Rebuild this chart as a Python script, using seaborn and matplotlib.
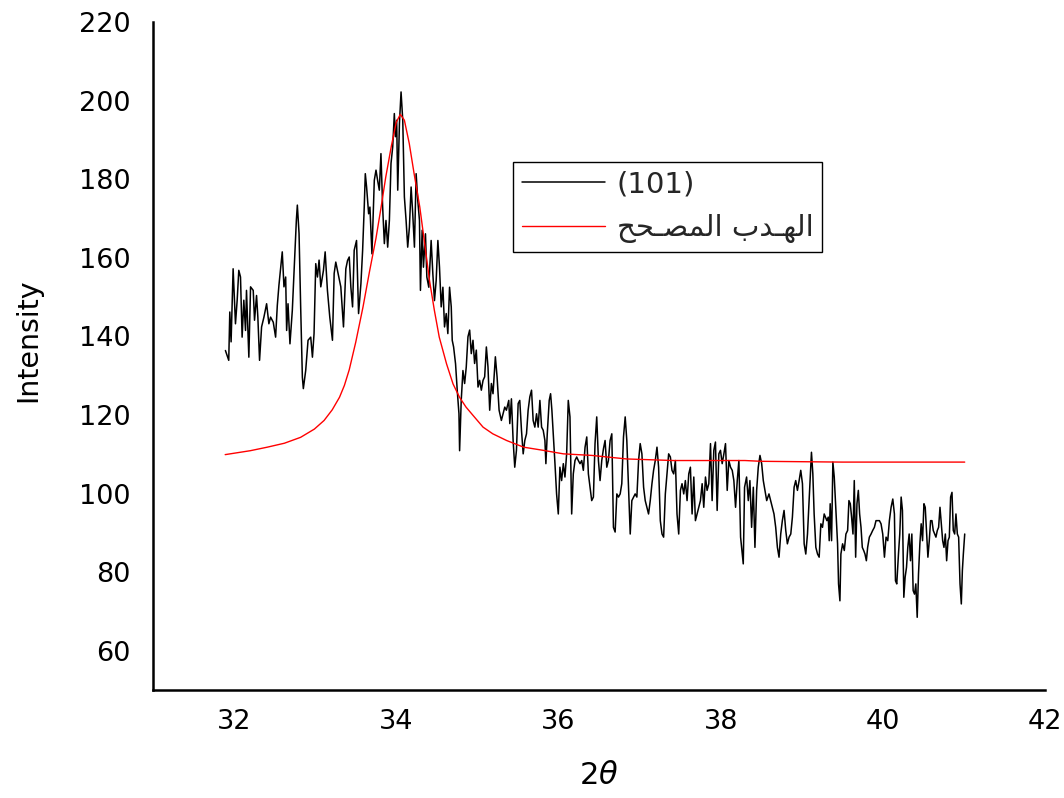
import numpy as np
import pandas as pd
import matplotlib
matplotlib.use("Agg")
import matplotlib.pyplot as plt
from matplotlib.font_manager import FontProperties
import seaborn as sns

# Measured XRD scan around the (101) reflection
scan_two_theta = [
    31.893, 31.934, 31.947, 31.963, 31.988, 32.017, 32.038, 32.058, 32.079, 32.099,
    32.120, 32.141, 32.153, 32.182, 32.203, 32.236, 32.252, 32.277, 32.293, 32.314,
    32.339, 32.368, 32.401, 32.429, 32.450, 32.483, 32.512, 32.533, 32.553, 32.594,
    32.615, 32.636, 32.648, 32.665, 32.689, 32.718, 32.747, 32.768, 32.780, 32.801,
    32.821, 32.842, 32.854, 32.883, 32.912, 32.945, 32.966, 32.986, 33.007, 33.028,
    33.048, 33.069, 33.102, 33.123, 33.151, 33.180, 33.213, 33.234, 33.254, 33.283,
    33.316, 33.349, 33.378,
    33.399, 33.420, 33.440, 33.461, 33.481, 33.510, 33.535, 33.564, 33.585, 33.605,
    33.618, 33.634, 33.659, 33.675, 33.700, 33.729, 33.750, 33.770, 33.791, 33.811,
    33.832, 33.853, 33.873, 33.894, 33.915, 33.935, 33.956, 33.976, 33.989, 34.005,
    34.018, 34.039, 34.059, 34.080, 34.100, 34.121, 34.141, 34.162, 34.183, 34.203,
    34.224, 34.245, 34.265, 34.286, 34.298, 34.319, 34.335, 34.360, 34.377, 34.401,
    34.430, 34.451, 34.471, 34.492, 34.513, 34.533, 34.554, 34.575, 34.595, 34.616,
    34.636, 34.657, 34.678, 34.690, 34.707, 34.731, 34.752, 34.773, 34.781, 34.801,
    34.822,
    34.843, 34.863, 34.884, 34.905, 34.925, 34.946, 34.966, 34.987, 35.008, 35.028,
    35.049, 35.070, 35.090, 35.111, 35.131, 35.152, 35.173, 35.193, 35.222, 35.243,
    35.268, 35.296, 35.317, 35.338, 35.358, 35.387, 35.400, 35.420, 35.441, 35.461,
    35.482, 35.503, 35.523, 35.544, 35.565, 35.585, 35.606, 35.626, 35.647, 35.668,
    35.688, 35.709, 35.730, 35.750, 35.771, 35.792, 35.812, 35.833, 35.845, 35.862,
    35.886, 35.903, 35.919, 35.936, 35.957, 35.977, 35.998, 36.018, 36.039, 36.060,
    36.080, 36.101, 36.121, 36.142, 36.163, 36.183, 36.204, 36.225, 36.245, 36.266,
    36.287, 36.307, 36.328, 36.349, 36.369, 36.390, 36.410,
    36.431, 36.451, 36.472, 36.493, 36.513, 36.534, 36.555, 36.575, 36.596, 36.616,
    36.637, 36.658, 36.678, 36.699, 36.720, 36.740, 36.761, 36.781, 36.802, 36.823,
    36.843, 36.864, 36.885, 36.905, 36.926, 36.946, 36.967, 36.988, 37.008, 37.029,
    37.050, 37.070, 37.091, 37.111, 37.132, 37.153, 37.173, 37.194, 37.215, 37.235,
    37.256, 37.277, 37.297, 37.318, 37.339, 37.359, 37.380, 37.400, 37.421, 37.442,
    37.462, 37.483, 37.504, 37.524, 37.545, 37.565, 37.586, 37.607, 37.627, 37.648,
    37.669, 37.689, 37.710, 37.730, 37.751, 37.772,
    37.792, 37.813, 37.833, 37.854, 37.875, 37.895, 37.916, 37.936, 37.957, 37.978,
    37.998, 38.019, 38.040, 38.060, 38.081, 38.101, 38.122, 38.143, 38.163, 38.184,
    38.205, 38.225, 38.246, 38.266, 38.279, 38.295, 38.320, 38.341, 38.361, 38.382,
    38.403, 38.423, 38.444, 38.464, 38.485, 38.506, 38.526, 38.547, 38.568, 38.596,
    38.617, 38.638, 38.658, 38.679, 38.700, 38.720, 38.741, 38.761, 38.782, 38.803,
    38.823, 38.844, 38.865, 38.885, 38.906, 38.926, 38.947, 38.968, 38.988, 39.009,
    39.030, 39.050, 39.071, 39.091, 39.112, 39.120, 39.137, 39.153, 39.174, 39.195,
    39.215, 39.236, 39.256,
    39.277, 39.310, 39.327, 39.339, 39.351, 39.368, 39.384, 39.401, 39.421, 39.442,
    39.454, 39.471, 39.483, 39.504, 39.525, 39.545, 39.566, 39.582, 39.599, 39.615,
    39.632, 39.648, 39.665, 39.681, 39.698, 39.714, 39.731, 39.747, 39.764, 39.780,
    39.797, 39.813, 39.834, 39.855, 39.875, 39.896, 39.916, 39.937, 39.958, 39.978,
    39.999, 40.020, 40.040, 40.061, 40.081, 40.102, 40.123, 40.143, 40.156, 40.172,
    40.193, 40.209, 40.226, 40.242, 40.259, 40.275, 40.292, 40.308, 40.325, 40.341,
    40.358, 40.374, 40.391, 40.407, 40.424, 40.440, 40.457, 40.473, 40.490, 40.507,
    40.523, 40.540, 40.556, 40.573, 40.589, 40.606, 40.622, 40.639, 40.655, 40.672,
    40.688, 40.705, 40.721, 40.738, 40.754, 40.771, 40.787, 40.804, 40.820, 40.836,
    40.853, 40.869, 40.886, 40.902, 40.919, 40.935, 40.952, 40.968, 40.981, 40.993,
    41.010,
]
scan_intensity = [
    136.4, 133.9, 146.2, 138.6, 157.2, 143.2, 149.2, 156.8, 155.1, 139.8,
    149.2, 141.5, 151.7, 134.7, 152.6, 151.7, 144.1, 150.4, 144.9, 133.9,
    142.4, 144.9, 148.3, 143.2, 144.9, 143.6, 139.8, 147.9, 153.0, 161.5,
    152.6, 155.1, 141.5, 148.3, 138.1, 146.6, 160.2, 169.6, 173.4, 166.2,
    147.5, 129.6, 126.7, 131.3, 139.0, 139.8, 134.7, 140.7, 158.5, 155.1,
    159.4, 152.6, 156.8, 161.5, 151.7, 144.9, 139.0, 156.0, 158.9, 156.0,
    152.6, 142.4, 157.2,
    159.3, 160.2, 152.5, 147.5, 161.9, 164.4, 145.8, 153.4, 161.9, 172.9,
    181.4, 178.0, 171.2, 172.9, 161.0, 179.7, 182.3, 179.7, 177.2, 186.5,
    172.9, 163.6, 169.5, 162.7, 169.5, 184.0, 188.2, 196.7, 190.8, 195.0,
    177.2, 194.2, 202.2, 195.0, 175.5, 169.5, 162.7, 167.8, 178.0, 171.2,
    162.7, 181.4, 174.6, 169.5, 151.7, 167.0, 157.6, 166.1, 155.1, 152.5,
    164.4, 155.9, 149.1, 154.2, 164.4, 157.6, 147.5, 152.5, 142.4, 145.8,
    140.7, 152.5, 147.5, 139.0, 137.3, 133.0, 126.2, 120.3, 110.9, 123.7,
    131.3,
    128.0, 132.2, 139.9, 141.6, 135.6, 139.0, 133.1, 136.5, 127.1, 128.8,
    126.3, 128.8, 129.7, 137.3, 132.2, 121.2, 128.0, 125.4, 134.8, 129.7,
    121.2, 118.6, 120.3, 122.0, 121.2, 123.7, 117.8, 124.1, 113.5, 106.7,
    111.0, 122.9, 123.7, 116.1, 110.1, 113.5, 115.2, 121.2, 124.6, 126.3,
    118.6, 116.9, 120.3, 116.9, 123.7, 116.9, 116.1, 113.5, 107.6, 115.2,
    123.7, 125.4, 121.2, 115.2, 107.6, 99.9, 94.8, 106.7, 103.3, 107.6,
    104.2, 110.1, 123.7, 119.5, 94.8, 105.0, 108.4, 109.3, 108.4, 107.6,
    108.4, 105.9, 111.8, 114.4, 105.0, 101.6, 98.2,
    99.1, 112.7, 119.5, 108.4, 103.3, 108.4, 111.4, 113.5, 106.7, 108.4,
    113.5, 115.2, 91.4, 90.2, 99.9, 99.1, 99.9, 102.5, 114.4, 119.5,
    113.5, 101.6, 89.7, 98.2, 99.1, 99.9, 99.1, 108.4, 112.7, 110.1,
    101.6, 98.2, 96.5, 94.8, 98.2, 102.5, 105.9, 108.4, 111.8, 106.7,
    93.1, 89.7, 88.9, 99.9, 105.0, 110.1, 109.3, 105.9, 105.0, 108.4,
    94.8, 89.7, 100.8, 102.5, 99.9, 103.3, 98.2, 105.0, 106.7, 94.8,
    104.2, 93.1, 94.8, 96.5, 98.2, 102.5,
    96.5, 104.2, 100.8, 102.5, 112.7, 98.2, 111.0, 113.1, 95.7, 110.1,
    111.0, 107.6, 110.1, 112.7, 100.8, 108.4, 106.7, 105.9, 103.3, 96.5,
    103.3, 108.4, 88.9, 84.6, 82.1, 101.6, 104.2, 98.2, 103.3, 91.4,
    101.6, 86.3, 100.8, 106.7, 109.7, 107.6, 103.3, 100.8, 98.2, 99.9,
    98.2, 96.5, 94.8, 91.4, 86.3, 83.8, 89.7, 93.1, 95.7, 90.6,
    87.2, 88.9, 89.7, 94.0, 101.6, 103.3, 100.8, 103.3, 105.9, 102.5,
    87.2, 84.6, 89.7, 98.2, 106.7, 110.5, 105.0, 94.8, 86.3, 84.6,
    83.8, 92.3, 91.4,
    94.8, 93.1, 94.0, 88.0, 97.4, 88.0, 108.0, 104.2, 95.7, 87.2,
    77.0, 72.7, 84.6, 87.2, 85.5, 89.7, 90.6, 98.2, 97.4, 94.0,
    89.7, 103.3, 83.8, 97.4, 100.8, 94.8, 91.4, 86.3, 85.5, 84.6,
    82.9, 86.3, 88.9, 89.7, 90.6, 91.4, 93.1, 93.1, 93.1, 92.3,
    89.7, 83.8, 88.9, 88.0, 93.1, 96.5, 98.6, 94.8, 77.8, 77.0,
    84.6, 89.7, 99.1, 95.7, 73.6, 78.7, 81.2, 86.3, 89.7, 82.9,
    89.7, 75.3, 74.4, 77.0, 68.5, 79.5, 87.2, 92.3, 88.0, 97.4,
    96.5, 89.7, 83.8, 88.0, 93.1, 93.1, 90.6, 89.7, 88.9, 90.6,
    91.4, 96.5, 92.3, 88.0, 86.3, 89.7, 82.9, 88.0, 88.9, 99.1,
    100.3, 90.6, 89.7, 94.8, 89.7, 88.9, 77.0, 71.9, 80.4, 84.6,
    89.7,
]

# Fitted (corrected) peak profile
fit_two_theta = [
    31.89, 32.20, 32.41, 32.62, 32.82, 32.99, 33.11, 33.21, 33.30, 33.36,
    33.42, 33.50, 33.59, 33.67, 33.75, 33.81, 33.87, 33.94, 34.00, 34.05,
    34.10, 34.16, 34.22, 34.29, 34.35, 34.41, 34.47, 34.53, 34.62, 34.70,
    34.78, 34.86, 34.95, 35.07, 35.19, 35.36, 35.57, 35.81, 36.06, 36.41,
    36.84, 37.42, 38.30, 38.50, 39.50, 41.01,
]
fit_intensity = [
    109.9, 110.9, 111.8, 112.8, 114.3, 116.4, 118.6, 121.3, 124.5, 127.5,
    131.5, 138.5, 147.5, 156.5, 165.0, 172.5, 180.5, 188.5, 194.5, 196.5,
    195.0, 189.1, 181.4, 172.9, 163.6, 154.2, 146.6, 139.8, 133.0, 127.9,
    124.5, 122.0, 119.8, 116.9, 115.2, 113.5, 111.8, 111.0, 110.1, 109.7,
    108.8, 108.4, 108.4, 108.2, 108.0, 108.0,
]

series_labels = [
    "(101)",
    # Arabic "الهدب المصحح" written with presentation forms in visual order
    "\uFEA2\uFEA4\u0640\uFEBC\uFEE4\uFEDF\uFE8D \uFE8F\uFEAA\u0640\uFEEC\uFEDF\uFE8D",
]
x_ticks = [32, 34, 36, 38, 40, 42]
y_ticks = [60, 80, 100, 120, 140, 160, 180, 200, 220]

sns.set_theme(style="white")
plt.rcParams["font.family"] = ["DejaVu Sans"]
plt.rcParams["mathtext.fontset"] = "dejavusans"

scan_df = pd.DataFrame({"two_theta": scan_two_theta, "intensity": scan_intensity})
fit_df = pd.DataFrame({"two_theta": fit_two_theta, "intensity": fit_intensity})

fig = plt.figure(figsize=(10.64, 7.98), dpi=100)
ax = fig.add_axes([153 / 1064, 1 - 690 / 798, (1045 - 153) / 1064, (690 - 22) / 798])

sns.lineplot(data=scan_df, x="two_theta", y="intensity", ax=ax, color="black",
             linewidth=1.1, estimator=None, sort=False, label=series_labels[0])
sns.lineplot(data=fit_df, x="two_theta", y="intensity", ax=ax, color="#ff0000",
             linewidth=1.0, estimator=None, sort=False, label=series_labels[1])

ax.set_xlim(31, 42)
ax.set_ylim(50, 220)
ax.set_xticks(x_ticks)
ax.set_yticks(y_ticks)
ax.tick_params(axis="both", length=0, labelsize=19.5, colors="black")
ax.tick_params(axis="y", pad=16)
ax.tick_params(axis="x", pad=14)

sns.despine(ax=ax)
for side in ("left", "bottom"):
    ax.spines[side].set_color("black")
    ax.spines[side].set_linewidth(1.8)

ax.set_xlabel(r"$2\theta$", fontsize=22, color="black")
ax.set_ylabel("Intensity", fontsize=20.5, color="black")
ax.xaxis.set_label_coords(0.5, -0.106)
ax.yaxis.set_label_coords(-0.124, 0.524)

legend_font = FontProperties(family=["DejaVu Sans"], size=21)
leg = ax.legend(loc="upper left", bbox_to_anchor=(0.4036, 0.791), borderaxespad=0,
                prop=legend_font, frameon=True, fancybox=False, framealpha=1,
                edgecolor="black", handlelength=2.85, handletextpad=0.4,
                borderpad=0.3, labelspacing=0.55)
leg.get_frame().set_linewidth(1.0)

fig.savefig("out.png", dpi=100, facecolor="white")
